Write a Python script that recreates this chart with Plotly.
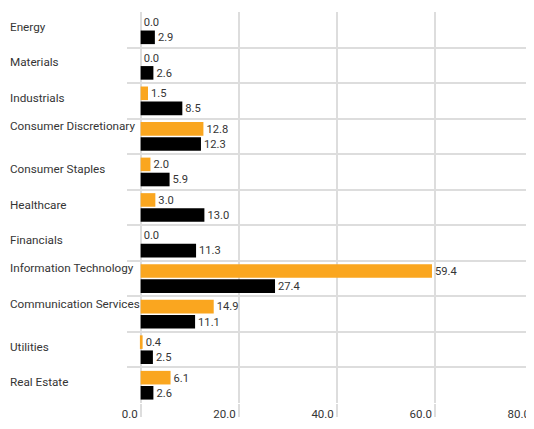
import plotly.graph_objects as go

categories = ["Energy", "Materials", "Industrials", "Consumer Discretionary",
              "Consumer Staples", "Healthcare", "Financials",
              "Information Technology", "Communication Services",
              "Utilities", "Real Estate"]
portfolio = [0.0, 0.0, 1.5, 12.8, 2.0, 3.0, 0.0, 59.4, 14.9, 0.4, 6.1]
benchmark = [2.9, 2.6, 8.5, 12.3, 5.9, 13.0, 11.3, 27.4, 11.1, 2.5, 2.6]
x_ticks = [0, 20, 40, 60, 80]
x_tick_labels = ["0.0", "20.0", "40.0", "60.0", "80.0"]

FONT = "Roboto, Arial, sans-serif"
TEXT = "#353535"
GRID = "#dddddd"
ORANGE = "#FAA61F"

# long labels sit a little higher in the original (wrapped box)
long_labels = {"Consumer Discretionary", "Information Technology", "Communication Services"}
tick_text = [c + "<br>\u00a0" if c in long_labels else c for c in categories]

fig = go.Figure()
fig.add_trace(go.Bar(
    y=categories, x=portfolio, orientation="h", name="Portfolio",
    marker=dict(color=ORANGE, line=dict(width=0)),
    texttemplate="%{x:.1f}", textposition="outside", cliponaxis=False,
    textfont=dict(family=FONT, size=11.5, color=TEXT),
))
fig.add_trace(go.Bar(
    y=categories, x=benchmark, orientation="h", name="Benchmark",
    marker=dict(color="#000000", line=dict(width=0)),
    texttemplate="%{x:.1f}", textposition="outside", cliponaxis=False,
    textfont=dict(family=FONT, size=11.5, color=TEXT),
))

fig.update_layout(
    width=526, height=421,
    margin=dict(l=0, r=0, t=4, b=26),
    plot_bgcolor="white", paper_bgcolor="white",
    barmode="group", bargap=0.15, bargroupgap=0.1,
    showlegend=False,
    font=dict(family=FONT, size=12, color=TEXT),
    xaxis=dict(
        domain=[115 / 526, 1],
        range=[-2.8, 80.2],
        tickvals=x_ticks, ticktext=x_tick_labels,
        ticklabelposition="outside left", ticklabelshift=-2,
        ticklabeloverflow="allow",
        ticks="outside", ticklen=13, tickwidth=2, tickcolor=GRID,
        showgrid=True, gridcolor=GRID, gridwidth=2,
        zeroline=False, showline=False,
        tickfont=dict(family=FONT, size=11.5, color=TEXT),
    ),
    yaxis=dict(
        anchor="free", position=0,
        categoryorder="array", categoryarray=categories,
        tickvals=categories, ticktext=tick_text,
        autorange="reversed",
        tickson="boundaries",
        ticks="", ticklabelposition="inside", ticklabelstandoff=-7,
        ticklabelshift=3,
        ticklabeloverflow="allow",
        showgrid=True, gridcolor=GRID, gridwidth=2,
        zeroline=False, showline=False,
        tickfont=dict(family=FONT, size=11.7, color=TEXT),
    ),
)

fig.write_html("out.html")
